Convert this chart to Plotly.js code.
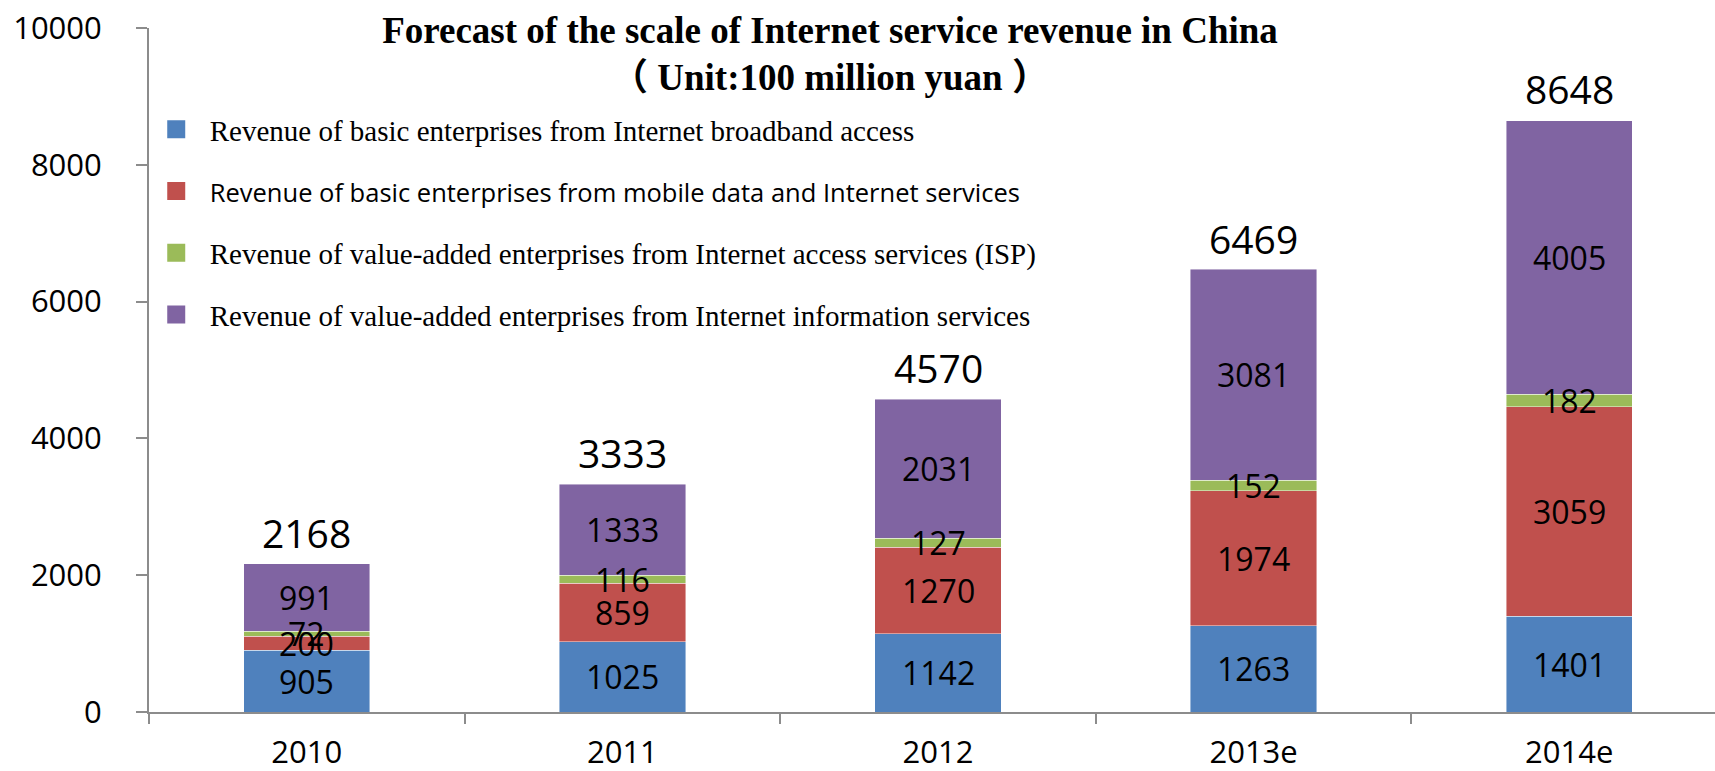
<!DOCTYPE html>
<html>
<head>
<meta charset="utf-8">
<script src="https://cdn.plot.ly/plotly-3.0.1.min.js"></script>
<style>html,body{margin:0;padding:0;background:#fff;}#chart{width:1715px;height:771px;}</style>
</head>
<body>
<div id="chart"></div>
<script>
// ---- data ----
const categories = ['2010', '2011', '2012', '2013e', '2014e'];
const broadband = [905, 1025, 1142, 1263, 1401];
const mobileData = [200, 859, 1270, 1974, 3059];
const ispAccess = [72, 116, 127, 152, 182];
const infoServices = [991, 1333, 2031, 3081, 4005];
const totals = [2168, 3333, 4570, 6469, 8648];
const seriesNames = [
  'Revenue of basic enterprises from Internet broadband access',
  'Revenue of basic enterprises from mobile data and Internet services',
  'Revenue of value-added enterprises from Internet access services (ISP)',
  'Revenue of value-added enterprises from Internet information services'
];
const yTicks = [0, 2000, 4000, 6000, 8000, 10000];
const titleLine1 = 'Forecast of the scale of Internet service revenue in China';
const titleLine2 = '（ Unit:100 million yuan ）';

// ---- styles ----
const colors = ['#4F81BD', '#C0504D', '#9BBB59', '#8064A2'];
const sansFont = 'Open Sans, Noto Sans, sans-serif';
const serifFont = 'Liberation Serif, Times New Roman, Noto Sans CJK SC, serif';
const seriesValues = [broadband, mobileData, ispAccess, infoServices];
const catIdx = categories.map((c, i) => i);

const legendName = (i) => i === 1
  ? '<span style="font-family:\'Open Sans\';font-size:25.5px">' + seriesNames[i] + '</span>'
  : seriesNames[i];

const barTraces = seriesValues.map((vals, i) => ({
  type: 'bar',
  x: categories,
  y: vals,
  name: seriesNames[i],
  legendgroup: 'g' + i,
  showlegend: false,
  marker: { color: colors[i], line: { width: 0.8, color: 'rgba(255,255,255,0.55)' } },
  hoverinfo: 'x+y+name'
}));

// legend entries (larger square swatches, same series)
const legendTraces = seriesValues.map((vals, i) => ({
  type: 'scatter',
  mode: 'markers',
  x: [null], y: [null],
  name: legendName(i),
  legendgroup: 'g' + i,
  showlegend: true,
  marker: { symbol: 'square', size: 16, color: colors[i], line: { width: 2, color: colors[i] } },
  hoverinfo: 'skip'
}));

const annotations = [];
// segment value labels, centred in each stacked segment
const base = categories.map(() => 0);
seriesValues.forEach((vals) => {
  vals.forEach((v, j) => {
    annotations.push({
      x: catIdx[j], y: base[j] + v / 2, xref: 'x', yref: 'y',
      text: String(v), showarrow: false,
      xanchor: 'center', yanchor: 'middle',
      font: { family: sansFont, size: 32, color: '#000' }
    });
    base[j] += v;
  });
});
// totals above bars
totals.forEach((t, i) => {
  annotations.push({
    x: catIdx[i], y: t, xref: 'x', yref: 'y',
    text: String(t), showarrow: false,
    xanchor: 'center', yanchor: 'bottom', yshift: 3,
    font: { family: sansFont, size: 39, color: '#000' }
  });
});
// second title line
annotations.push({
  xref: 'paper', yref: 'paper',
  x: (830 - 149) / 1566, y: 1 - (77 - 28) / 684,
  xanchor: 'center', yanchor: 'middle',
  text: '<b>' + titleLine2 + '</b>',
  showarrow: false,
  font: { family: serifFont, size: 37, color: '#000' }
});

const layout = {
  width: 1715, height: 771,
  margin: { l: 149, r: 0, t: 28, b: 59 },
  paper_bgcolor: '#fff', plot_bgcolor: '#fff',
  barmode: 'stack',
  bargap: 0.6,
  showlegend: true,
  title: {
    text: '<b>' + titleLine1 + '</b>',
    x: 830 / 1715, xanchor: 'center', xref: 'container',
    y: 1 - 30 / 771, yanchor: 'middle', yref: 'container',
    font: { family: serifFont, size: 37, color: '#000' }
  },
  legend: {
    x: -0.004, y: 1 - (104 - 28) / 684, xanchor: 'left', yanchor: 'top',
    xref: 'paper', yref: 'paper',
    traceorder: 'grouped',
    tracegroupgap: 21,
    itemwidth: 57,
    itemsizing: 'trace',
    bgcolor: 'rgba(0,0,0,0)',
    font: { family: serifFont, size: 29, color: '#000' }
  },
  xaxis: {
    type: 'category',
    range: [-0.5, 4.462],
    showline: true, linecolor: '#8c8c8c', linewidth: 2,
    ticks: 'outside', tickson: 'boundaries', ticklen: 10, tickcolor: '#8c8c8c', tickwidth: 2,
    ticklabelstandoff: 12,
    showgrid: false, zeroline: false,
    tickfont: { family: sansFont, size: 31, color: '#000' },
    automargin: false, fixedrange: true
  },
  yaxis: {
    range: [0, 10000],
    tickvals: yTicks,
    ticktext: yTicks.map(String),
    showline: true, linecolor: '#8c8c8c', linewidth: 2,
    ticks: 'outside', ticklen: 11, tickcolor: '#8c8c8c', tickwidth: 2,
    ticklabelstandoff: 28,
    showgrid: false, zeroline: false,
    tickfont: { family: sansFont, size: 31, color: '#000' },
    automargin: false, fixedrange: true
  },
  annotations: annotations
};

Plotly.newPlot('chart', barTraces.concat(legendTraces), layout, { displayModeBar: false, staticPlot: true });
</script>
</body>
</html>
